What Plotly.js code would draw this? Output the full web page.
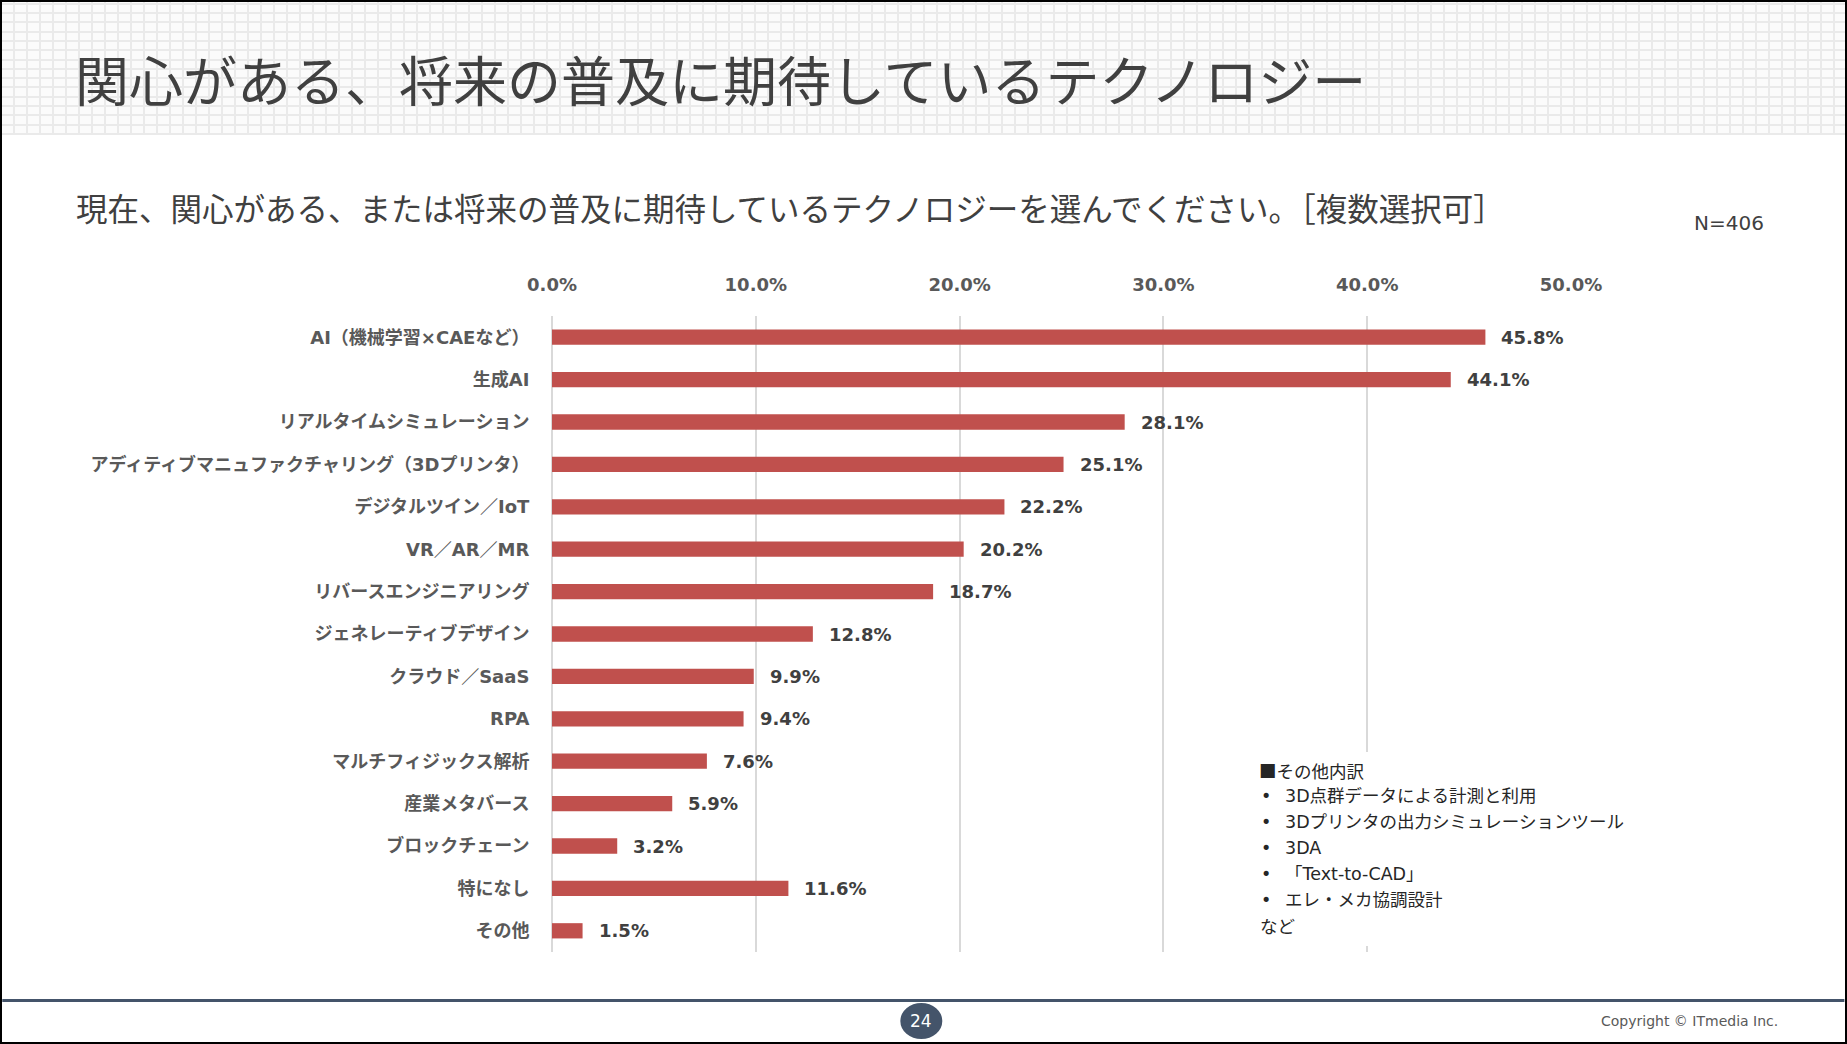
<!DOCTYPE html>
<html>
<head>
<meta charset="utf-8">
<script src="https://cdn.plot.ly/plotly-3.0.1.min.js"></script>
<style>
  html, body { margin: 0; padding: 0; background: #ffffff; }
  body { width: 1847px; height: 1044px; overflow: hidden; position: relative; }
  #header {
    position: absolute; left: 0; top: 0; width: 1847px; height: 135px;
    background-color: #fbfbfb;
    background-image:
      repeating-linear-gradient(90deg, #eaeaea 0px, #eaeaea 2px, transparent 2px, transparent 13px),
      repeating-linear-gradient(0deg, #eaeaea 0px, #eaeaea 2px, transparent 2px, transparent 9.3px);
  }
  #chart { position: absolute; left: 0; top: 0; width: 1847px; height: 1044px; }
  #frame { position: absolute; left: 0; top: 0; width: 1847px; height: 1044px; box-sizing: border-box;
    border: 2px solid #000; pointer-events: none; }
</style>
</head>
<body>
<div id="header"></div>
<div id="chart"></div>
<div id="frame"></div>
<script>
// ---- data ----
const categories = [
  'AI（機械学習×CAEなど）',
  '生成AI',
  'リアルタイムシミュレーション',
  'アディティブマニュファクチャリング（3Dプリンタ）',
  'デジタルツイン／IoT',
  'VR／AR／MR',
  'リバースエンジニアリング',
  'ジェネレーティブデザイン',
  'クラウド／SaaS',
  'RPA',
  'マルチフィジックス解析',
  '産業メタバース',
  'ブロックチェーン',
  '特になし',
  'その他'
];
const values = [45.8, 44.1, 28.1, 25.1, 22.2, 20.2, 18.7, 12.8, 9.9, 9.4, 7.6, 5.9, 3.2, 11.6, 1.5];
const xTickValues = [0, 10, 20, 30, 40, 50];
const xTickLabels = ['0.0%', '10.0%', '20.0%', '30.0%', '40.0%', '50.0%'];

const titleText = '関心がある、将来の普及に期待しているテクノロジー';
const subtitleText = '現在、関心がある、または将来の普及に期待しているテクノロジーを選んでください。［複数選択可］';
const sampleText = 'N=406';
const noteTitle = '■その他内訳';
const noteItems = ['3D点群データによる計測と利用', '3Dプリンタの出力シミュレーションツール', '3DA', '「Text-to-CAD」', 'エレ・メカ協調設計'];
const noteEnd = 'など';
const pageNumber = '24';
const copyrightText = 'Copyright © ITmedia Inc.';

// ---- layout geometry (pixels) ----
const W = 1847, H = 1044;
const L = 552, R = 1571.5, T = 316, B = 952;
const px = x => (x - L) / (R - L);
const py = y => (B - y) / (B - T);

const LATIN_JP = 'DejaVu Sans, "Noto Sans CJK JP", sans-serif';
const JP = '"Noto Sans CJK JP", sans-serif';

const trace = {
  type: 'bar',
  orientation: 'h',
  y: categories,
  x: values,
  width: 0.36,
  marker: { color: '#C0504D' },
  hoverinfo: 'skip'
};

const annotations = [];
// data labels
categories.forEach((c, i) => {
  annotations.push({
    x: values[i], y: c, xref: 'x', yref: 'y',
    text: values[i].toFixed(1) + '%',
    showarrow: false, xanchor: 'left', yanchor: 'middle', xshift: 14,
    font: { family: LATIN_JP, size: 18, color: '#404040', weight: 'bold' }
  });
});
function txt(text, x, y, font, xanchor) {
  annotations.push({
    text: text, x: px(x), y: py(y), xref: 'paper', yref: 'paper',
    showarrow: false, xanchor: xanchor || 'left', yanchor: 'middle', font: font
  });
}
txt(titleText, 73, 79, { family: JP, size: 54, color: '#404040' });
txt(subtitleText, 74, 207, { family: JP, size: 31.5, color: '#404040' });
txt(sampleText, 1693, 223, { family: LATIN_JP, size: 20, color: '#404040' });

// note
const noteFont = { family: LATIN_JP, size: 17.5, color: '#262626' };
const noteJP = { family: JP, size: 17.5, color: '#262626' };
const lineH = 25.8, noteY0 = 770.5;
txt(noteTitle, 1257, noteY0, noteJP);
noteItems.forEach((s, i) => {
  txt('•', 1259, noteY0 + lineH * (i + 1), noteFont);
  txt(s, 1283, noteY0 + lineH * (i + 1), noteFont);
});
txt(noteEnd, 1258, noteY0 + lineH * (noteItems.length + 1), noteJP);

// footer
txt(pageNumber, 921.5, 1021, { family: 'DejaVu Sans, sans-serif', size: 17, color: '#ffffff' }, 'center');
txt(copyrightText, 1781, 1021, { family: 'DejaVu Sans, sans-serif', size: 14, color: '#595959' }, 'right');

const shapes = [
  // white panel behind the note (hides grid lines)
  { type: 'rect', xref: 'paper', yref: 'paper', layer: 'above',
    x0: px(1246), x1: px(1662), y0: py(946), y1: py(752),
    fillcolor: '#ffffff', line: { width: 0 } },
  // footer rule
  { type: 'line', xref: 'paper', yref: 'paper',
    x0: px(2), x1: px(1845), y0: py(1000.5), y1: py(1000.5),
    line: { color: '#44546A', width: 3 } },
  // page number badge
  { type: 'circle', xref: 'paper', yref: 'paper',
    x0: px(900.5), x1: px(942.5), y0: py(1039), y1: py(1003),
    fillcolor: '#44546A', line: { width: 0 } }
];

const layout = {
  width: W, height: H,
  margin: { l: L, r: W - R, t: T, b: H - B, pad: 0 },
  paper_bgcolor: 'rgba(0,0,0,0)',
  plot_bgcolor: 'rgba(0,0,0,0)',
  showlegend: false,
  xaxis: {
    side: 'top', range: [0, 50], fixedrange: true, automargin: false,
    tickmode: 'array', tickvals: xTickValues, ticktext: xTickLabels,
    showgrid: true, gridcolor: '#D9D9D9', gridwidth: 2,
    zeroline: true, zerolinecolor: '#D9D9D9', zerolinewidth: 2,
    showline: false,
    ticks: 'outside', ticklen: 17, tickcolor: 'rgba(0,0,0,0)',
    tickfont: { family: LATIN_JP, size: 18, color: '#595959', weight: 'bold' }
  },
  yaxis: {
    type: 'category', autorange: 'reversed', fixedrange: true, automargin: false,
    showgrid: false, zeroline: false, showline: false,
    ticks: 'outside', ticklen: 18, tickcolor: 'rgba(0,0,0,0)',
    tickfont: { family: LATIN_JP, size: 18, color: '#595959', weight: 'bold' }
  },
  annotations: annotations,
  shapes: shapes
};

Plotly.newPlot('chart', [trace], layout, { displayModeBar: false, staticPlot: true });
</script>
</body>
</html>
